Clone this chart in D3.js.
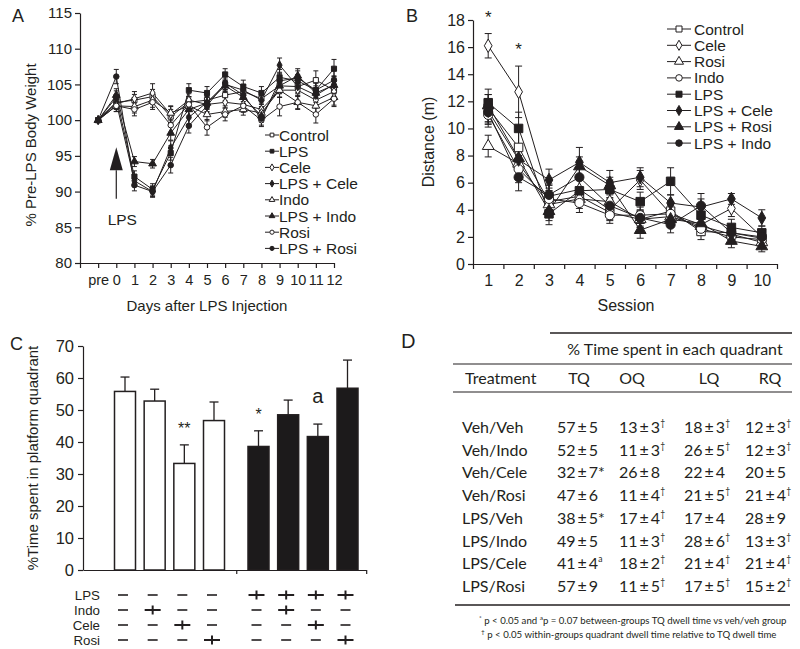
<!DOCTYPE html>
<html>
<head>
<meta charset="utf-8">
<script src="https://cdn.jsdelivr.net/npm/d3@7/dist/d3.min.js"></script>
<style>
html,body{margin:0;padding:0;background:#fff;}
svg{display:block;}
</style>
</head>
<body>
<svg id="fig" width="800" height="649"></svg>
<script>
// ================= DATA =================
// ---- Panel A: body weight ----
const daysA = [-1,0,1,2,3,4,5,6,7,8,9,10,11,12];
const dayLabelsA = ["pre","0","1","2","3","4","5","6","7","8","9","10","11","12"];
const yTicksA = [80,85,90,95,100,105,110,115];
const seriesA = ["Control","LPS","Cele","LPS + Cele","Indo","LPS + Indo","Rosi","LPS + Rosi"];
const controlA  = [100,102.5,102.8,103.3,100.5,102.5,102.8,103.5,104.0,103.0,104.8,104.7,105.6,104.2];
const lpsA      = [100,103.2, 92.1, 90.3, 95.4,104.2,103.8,106.4,104.7,103.8,106.0,105.5,104.2,107.2];
const celeA     = [100,102.3,103.0,103.8,100.8,102.8,102.2,102.5,102.2,101.5,104.2,104.2,102.8,104.0];
const lpsCeleA  = [100,102.5, 91.5, 90.0, 96.1,100.4,102.5,105.0,104.2,102.8,107.7,104.7,103.5,105.0];
const indoA     = [100,102.0,101.9,102.8,101.0,102.0,100.8,101.2,101.5,101.0,104.2,102.5,102.0,103.2];
const lpsIndoA  = [100,103.5, 94.2, 93.9, 98.2,101.5,102.4,104.8,103.2,100.6,104.8,106.2,103.8,104.9];
const rosiA     = [100,102.0,101.5,102.5, 99.3,102.2, 99.0,100.8,102.0,100.0,101.9,102.5,100.8,103.0];
const lpsRosiA  = [100,106.1, 90.9, 90.0, 93.7, 99.2,102.0,105.2,103.5,100.2,105.5,105.9,104.2,105.6];
const errControlA = [0.2,0.8,0.8,1.0,1.0,0.8,0.9,0.8,0.9,0.8,1.0,0.9,1.3,1.2];
const errLpsA     = [0.2,0.9,0.8,0.8,1.0,0.9,0.9,0.8,0.9,0.9,1.1,0.9,1.0,1.3];
const errCeleA    = [0.2,0.8,1.0,1.3,1.1,0.9,1.0,0.8,0.9,0.9,1.0,0.9,1.1,1.0];
const errLpsCeleA = [0.2,0.9,0.8,0.7,1.0,1.0,0.9,0.9,0.8,0.9,1.0,0.9,1.0,1.2];
const errIndoA    = [0.2,0.8,0.9,1.0,1.0,0.8,0.9,0.8,0.8,0.8,1.0,0.9,1.0,1.1];
const errLpsIndoA = [0.2,0.9,0.7,0.6,1.0,0.9,0.9,0.8,0.9,0.9,1.1,1.0,1.0,1.2];
const errRosiA    = [0.2,0.8,0.9,1.0,1.0,0.9,1.1,0.9,0.9,0.9,1.3,1.0,1.2,1.1];
const errLpsRosiA = [0.2,1.0,0.8,0.8,1.1,1.0,0.9,0.9,0.9,0.9,1.0,1.0,1.0,1.3];

// ---- Panel B: distance per session ----
const sessionsB = [1,2,3,4,5,6,7,8,9,10];
const yTicksB = [0,2,4,6,8,10,12,14,16,18];
const seriesB = ["Control","Cele","Rosi","Indo","LPS","LPS + Cele","LPS + Rosi","LPS + Indo"];
const controlB  = [11.5, 8.6, 4.6, 5.0, 3.8, 3.3, 3.9, 2.4, 2.3, 1.9];
const celeB     = [16.1,12.7, 5.0, 5.5, 4.0, 6.2, 3.7, 2.9, 4.1, 2.0];
const rosiB     = [ 8.7, 7.4, 4.4, 4.8, 4.6, 3.3, 3.5, 2.8, 2.2, 1.6];
const indoB     = [11.0, 7.0, 4.8, 4.5, 3.6, 3.6, 3.7, 2.6, 2.0, 1.8];
const lpsB      = [11.9,10.0, 3.7, 5.4, 5.5, 4.6, 6.1, 3.6, 2.7, 2.3];
const lpsCeleB  = [11.3, 7.7, 6.2, 7.5, 6.0, 6.4, 4.5, 4.2, 4.8, 3.4];
const lpsRosiB  = [11.7, 7.8, 3.9, 7.2, 5.8, 2.5, 3.3, 3.0, 1.7, 1.3];
const lpsIndoB  = [11.2, 6.4, 5.1, 6.4, 4.3, 3.4, 2.9, 4.3, 2.3, 2.0];
const errControlB = [1.0,1.2,0.8,0.7,0.6,0.6,0.7,0.6,0.5,0.4];
const errCeleB    = [0.9,1.9,0.8,0.8,0.7,0.7,0.7,0.6,0.6,0.5];
const errRosiB    = [0.8,1.0,0.7,0.7,0.6,0.6,0.6,0.5,0.5,0.4];
const errIndoB    = [0.9,1.0,0.8,0.7,0.6,0.6,0.6,0.5,0.5,0.4];
const errLpsB     = [1.0,1.2,0.8,0.8,0.7,0.7,1.0,0.6,0.6,0.5];
const errLpsCeleB = [0.9,1.0,0.8,1.1,0.9,0.7,0.6,0.6,0.4,0.6];
const errLpsRosiB = [0.8,1.0,0.7,0.7,0.6,0.6,0.6,0.5,0.5,0.4];
const errLpsIndoB = [0.9,1.0,0.8,0.7,0.6,0.6,0.6,0.9,0.5,0.4];
const starSessionsB = [1,2];

// ---- Panel C: probe trial ----
const yTicksC = [0,10,20,30,40,50,60,70];
const slotC   = [0,1,2,3,4.5,5.5,6.5,7.5];
const valuesC = [55.8,52.8,33.3,46.7,38.6,48.5,41.7,56.8];
const errC    = [4.5,3.7,5.8,5.8,4.9,4.6,3.9,8.8];
const sigC    = ["","","**","","*","","a",""];
const treatRowsC = ["LPS","Indo","Cele","Rosi"];
const lpsC  = [0,0,0,0,1,1,1,1];
const indoC = [0,1,0,0,0,1,0,0];
const celeC = [0,0,1,0,0,0,1,0];
const rosiC = [0,0,0,1,0,0,0,1];

// ---- Panel D: table ----
const headD = ["TQ","OQ","LQ","RQ"];
const treatmentsD = ["Veh/Veh","Veh/Indo","Veh/Cele","Veh/Rosi","LPS/Veh","LPS/Indo","LPS/Cele","LPS/Rosi"];
const tqD = ["57±5","52±5","32±7*","47±6","38±5*","49±5","41±4^a","57±9"];
const oqD = ["13±3^†","11±3^†","26±8","11±4^†","17±4^†","11±3^†","18±2^†","11±5^†"];
const lqD = ["18±3^†","26±5^†","22±4","21±5^†","17±4","28±6^†","21±4^†","17±5^†"];
const rqD = ["12±3^†","12±3^†","20±5","21±4^†","28±9","13±3^†","21±4^†","15±2^†"];

// ================= DRAWING =================
const SANS = "'Liberation Sans', Arial, Helvetica, sans-serif";
const HUM = "Lato, 'Open Sans', sans-serif";
const INK = "#231f20";
const svg = d3.select("#fig");

const shapes = {square:d3.symbolSquare, diamond:d3.symbolDiamond, triangle:d3.symbolTriangle, circle:d3.symbolCircle};
const markerStyleA = {
  "Control":["square",false], "LPS":["square",true],
  "Cele":["diamond",false], "LPS + Cele":["diamond",true],
  "Indo":["triangle",false], "LPS + Indo":["triangle",true],
  "Rosi":["circle",false], "LPS + Rosi":["circle",true]
};
const markerStyleB = {
  "Control":["square",false], "LPS":["square",true],
  "Cele":["diamond",false], "LPS + Cele":["diamond",true],
  "Rosi":["triangle",false], "LPS + Rosi":["triangle",true],
  "Indo":["circle",false], "LPS + Indo":["circle",true]
};

function axisStyle(sel, fs){
  sel.attr("font-family", SANS).attr("font-size", fs);
  sel.selectAll("path.domain").attr("stroke", INK).attr("stroke-width",1.2);
  sel.selectAll(".tick line").attr("stroke", INK).attr("stroke-width",1.2);
  sel.selectAll(".tick text").attr("fill", INK);
}

function drawSeries(g, xs, xScale, yScale, names, vals, errs, styleMap, sizeOf, cap){
  const line = d3.line().x((d,i)=>xScale(xs[i])).y(d=>yScale(d));
  names.forEach(n=>{
    g.append("path").attr("d", line(vals[n])).attr("fill","none")
      .attr("stroke",INK).attr("stroke-width",1);
  });
  names.forEach(n=>{
    const eg = g.append("g").attr("stroke",INK).attr("stroke-width",1);
    vals[n].forEach((v,i)=>{
      const e = errs[n][i], cx = xScale(xs[i]);
      eg.append("line").attr("x1",cx).attr("x2",cx).attr("y1",yScale(v-e)).attr("y2",yScale(v+e));
      eg.append("line").attr("x1",cx-cap).attr("x2",cx+cap).attr("y1",yScale(v+e)).attr("y2",yScale(v+e));
      eg.append("line").attr("x1",cx-cap).attr("x2",cx+cap).attr("y1",yScale(v-e)).attr("y2",yScale(v-e));
    });
  });
  names.forEach(n=>{
    const [shape, filled] = styleMap[n];
    g.append("g").selectAll("path").data(vals[n]).join("path")
      .attr("transform",(d,i)=>`translate(${xScale(xs[i])},${yScale(d)})`)
      .attr("d", d3.symbol().type(shapes[shape]).size(sizeOf[shape])())
      .attr("fill", filled?INK:"#fff").attr("stroke",INK).attr("stroke-width",1);
  });
}

function drawLegend(g, names, styleMap, x0, x1, xm, xt, y0, dy, sizeOf, fs){
  names.forEach((n,i)=>{
    const y = y0 + i*dy;
    g.append("line").attr("x1",x0).attr("x2",x1).attr("y1",y).attr("y2",y).attr("stroke",INK).attr("stroke-width",1);
    const [shape,filled] = styleMap[n];
    g.append("path").attr("transform",`translate(${xm},${y})`)
      .attr("d", d3.symbol().type(shapes[shape]).size(sizeOf[shape])())
      .attr("fill",filled?INK:"#fff").attr("stroke",INK).attr("stroke-width",1);
    g.append("text").attr("x",xt).attr("y",y).attr("dy","0.36em")
      .attr("font-family",SANS).attr("font-size",fs).attr("fill",INK).text(n);
  });
}

// ---------- Panel A ----------
(function(){
  const g = svg.append("g");
  const x = d3.scaleLinear().domain([-2,12]).range([80,334]);
  const y = d3.scaleLinear().domain([80,115]).range([263,13]);
  g.append("text").attr("x",12).attr("y",22).attr("font-family",SANS).attr("font-size",18).attr("fill",INK).text("A");
  const ay = g.append("g").attr("transform","translate(80,0)")
    .call(d3.axisLeft(y).tickValues(yTicksA).tickSize(5).tickSizeOuter(0).tickPadding(3));
  axisStyle(ay, 15);
  const ax = g.append("g").attr("transform","translate(0,263)")
    .call(d3.axisBottom(x).tickValues([-2].concat(daysA))
      .tickFormat(d => d===-2 ? "" : dayLabelsA[daysA.indexOf(d)])
      .tickSize(5).tickSizeOuter(0).tickPadding(7));
  axisStyle(ax, 14.5);
  g.append("text").attr("x",207).attr("y",311).attr("text-anchor","middle")
    .attr("font-family",SANS).attr("font-size",15).attr("fill",INK).text("Days after LPS Injection");
  g.append("text").attr("transform","translate(36,145) rotate(-90)").attr("text-anchor","middle")
    .attr("font-family",SANS).attr("font-size",15).attr("fill",INK).text("% Pre-LPS Body Weight");

  const vals = {"Control":controlA,"LPS":lpsA,"Cele":celeA,"LPS + Cele":lpsCeleA,"Indo":indoA,"LPS + Indo":lpsIndoA,"Rosi":rosiA,"LPS + Rosi":lpsRosiA};
  const errs = {"Control":errControlA,"LPS":errLpsA,"Cele":errCeleA,"LPS + Cele":errLpsCeleA,"Indo":errIndoA,"LPS + Indo":errLpsIndoA,"Rosi":errRosiA,"LPS + Rosi":errLpsRosiA};
  drawSeries(g, daysA, x, y, seriesA, vals, errs, markerStyleA, {square:26,diamond:22,triangle:26,circle:24}, 2.5);

  // LPS injection arrow at day 0
  const ax0 = x(0);
  g.append("path").attr("d",`M${ax0},${y(96.2)} L${ax0+6.5},${y(93)} L${ax0-6.5},${y(93)} Z`).attr("fill",INK);
  g.append("line").attr("x1",ax0).attr("x2",ax0).attr("y1",y(93)).attr("y2",y(89)).attr("stroke",INK).attr("stroke-width",1.2);
  g.append("text").attr("x",ax0+6).attr("y",y(85.3)).attr("text-anchor","middle")
    .attr("font-family",SANS).attr("font-size",15.5).attr("fill",INK).text("LPS");

  drawLegend(g, seriesA, markerStyleA, 265, 279, 272, 279, 135, 16.2, {square:14,diamond:14,triangle:14,circle:14}, 15.5);
})();

// ---------- Panel B ----------
(function(){
  const g = svg.append("g");
  const x = d3.scaleLinear().domain([0.5,10.5]).range([473,777]);
  const y = d3.scaleLinear().domain([0,18]).range([264,20]);
  g.append("text").attr("x",406).attr("y",22).attr("font-family",SANS).attr("font-size",18).attr("fill",INK).text("B");
  const ay = g.append("g").attr("transform","translate(473,0)")
    .call(d3.axisLeft(y).tickValues(yTicksB).tickSize(5).tickSizeOuter(0).tickPadding(3));
  axisStyle(ay, 16);
  const ax = g.append("g").attr("transform","translate(0,264)")
    .call(d3.axisBottom(x).tickValues(d3.range(0.5,11,1)).tickFormat("").tickSize(5).tickSizeOuter(0));
  axisStyle(ax, 16);
  const axl = g.append("g").attr("transform","translate(0,264)")
    .call(d3.axisBottom(x).tickValues(sessionsB).tickSize(0).tickPadding(11));
  axisStyle(axl, 16);
  axl.select("path.domain").remove();
  g.append("text").attr("x",626).attr("y",311).attr("text-anchor","middle")
    .attr("font-family",SANS).attr("font-size",16).attr("fill",INK).text("Session");
  g.append("text").attr("transform","translate(434,142) rotate(-90)").attr("text-anchor","middle")
    .attr("font-family",SANS).attr("font-size",16).attr("fill",INK).text("Distance (m)");

  const vals = {"Control":controlB,"Cele":celeB,"Rosi":rosiB,"Indo":indoB,"LPS":lpsB,"LPS + Cele":lpsCeleB,"LPS + Rosi":lpsRosiB,"LPS + Indo":lpsIndoB};
  const errs = {"Control":errControlB,"Cele":errCeleB,"Rosi":errRosiB,"Indo":errIndoB,"LPS":errLpsB,"LPS + Cele":errLpsCeleB,"LPS + Rosi":errLpsRosiB,"LPS + Indo":errLpsIndoB};
  drawSeries(g, sessionsB, x, y, seriesB, vals, errs, markerStyleB, {square:72,diamond:52,triangle:60,circle:66}, 3.5);

  // significance stars above the highest error bar
  starSessionsB.forEach(s=>{
    const i = sessionsB.indexOf(s);
    const top = d3.max(seriesB, n => vals[n][i] + errs[n][i]);
    g.append("text").attr("x",x(s)).attr("y",y(top)-11).attr("text-anchor","middle")
      .attr("font-family",SANS).attr("font-size",17).attr("fill",INK).text("*");
  });

  drawLegend(g, seriesB, markerStyleB, 667, 691, 679, 694, 29, 16.3, {square:36,diamond:30,triangle:36,circle:34}, 15.5);
})();

// ---------- Panel C ----------
(function(){
  const g = svg.append("g");
  const xC = d3.scaleLinear().domain([0,7.5]).range([125,347.5]);
  const y = d3.scaleLinear().domain([0,70]).range([570,346]);
  const bw = 21;
  g.append("text").attr("x",10).attr("y",350).attr("font-family",SANS).attr("font-size",18).attr("fill",INK).text("C");
  const ay = g.append("g").attr("transform","translate(83,0)")
    .call(d3.axisLeft(y).tickValues(yTicksC).tickSize(5).tickSizeOuter(0).tickPadding(4));
  axisStyle(ay, 16.5);
  const xa = xC.copy().domain([-1.41,8.13]).range([xC(-1.41), xC(8.13)]);
  const ax = g.append("g").attr("transform","translate(0,570)")
    .call(d3.axisBottom(xa).tickValues([(slotC[3]+slotC[4])/2, 8.13]).tickFormat("").tickSize(4).tickSizeOuter(0));
  axisStyle(ax, 12);
  g.append("text").attr("transform","translate(38,458) rotate(-90)").attr("text-anchor","middle")
    .attr("font-family",SANS).attr("font-size",15).attr("fill",INK).text("%Time spent in platform quadrant");

  // error bars (upper only)
  valuesC.forEach((v,i)=>{
    const cx = xC(slotC[i]);
    g.append("line").attr("x1",cx).attr("x2",cx).attr("y1",y(v)).attr("y2",y(v+errC[i])).attr("stroke",INK).attr("stroke-width",1.3);
    g.append("line").attr("x1",cx-4.5).attr("x2",cx+4.5).attr("y1",y(v+errC[i])).attr("y2",y(v+errC[i])).attr("stroke",INK).attr("stroke-width",1.3);
  });
  g.selectAll("rect.bar").data(valuesC).join("rect").attr("class","bar")
    .attr("x",(d,i)=>xC(slotC[i])-bw/2).attr("width",bw)
    .attr("y",d=>y(d)).attr("height",d=>y(0)-y(d))
    .attr("fill",(d,i)=>lpsC[i]?"#1c1a1b":"#fff").attr("stroke",INK).attr("stroke-width",1.5);
  sigC.forEach((s,i)=>{
    if(!s) return;
    const topY = y(valuesC[i]+errC[i]);
    const isA = s==="a";
    g.append("text").attr("x",xC(slotC[i])).attr("y", isA ? topY-21 : topY-11).attr("text-anchor","middle")
      .attr("font-family",SANS).attr("font-size",isA?20:16).attr("fill",INK).text(s);
  });

  // treatment matrix
  const rowVals = [lpsC, indoC, celeC, rosiC];
  const rowY = d3.scaleLinear().domain([0,3]).range([595,640]);
  treatRowsC.forEach((r,ri)=>{
    const yy = rowY(ri);
    g.append("text").attr("x",100).attr("y",yy).attr("dy","0.36em").attr("text-anchor","end")
      .attr("font-family",SANS).attr("font-size",13.3).attr("fill",INK).text(r);
    rowVals[ri].forEach((on,i)=>{
      const cx = xC(slotC[i]) - 2;
      if(on){
        g.append("line").attr("x1",cx-8).attr("x2",cx+8).attr("y1",yy).attr("y2",yy).attr("stroke",INK).attr("stroke-width",2);
        g.append("line").attr("x1",cx).attr("x2",cx).attr("y1",yy-4.5).attr("y2",yy+4.5).attr("stroke",INK).attr("stroke-width",2);
      } else {
        g.append("line").attr("x1",cx-5).attr("x2",cx+5).attr("y1",yy).attr("y2",yy).attr("stroke",INK).attr("stroke-width",1.6);
      }
    });
  });
})();

// ---------- Panel D ----------
(function(){
  const g = svg.append("g").attr("font-family",HUM).attr("fill",INK);
  g.append("text").attr("x",401).attr("y",348).attr("font-size",19).text("D");
  const hl = (x1,x2,yy,w)=>g.append("line").attr("x1",x1).attr("x2",x2).attr("y1",yy).attr("y2",yy).attr("stroke",INK).attr("stroke-width",w);
  hl(550,792,333,1.5);
  hl(453,792,364,1.2);
  hl(453,792,392,1.2);
  hl(455,790,605,1.5);
  g.append("text").attr("x",675).attr("y",355).attr("text-anchor","middle").attr("font-size",16).text("% Time spent in each quadrant");
  g.append("text").attr("x",465).attr("y",384).attr("font-size",16).text("Treatment");
  const headX = [579,632,709,770];
  headD.forEach((h,i)=>g.append("text").attr("x",headX[i]).attr("y",384).attr("text-anchor","middle").attr("font-size",16).text(h));

  const rowY = d3.scaleLinear().domain([0,treatmentsD.length-1]).range([433,592]);
  const colX = [557,619,684,745];
  const cols = [tqD,oqD,lqD,rqD];
  function cell(x,yy,str){
    const parts = str.split("^");
    const t = g.append("text").attr("x",x).attr("y",yy).attr("font-size",16);
    t.append("tspan").text(parts[0].replace("±","\u2009±\u2009"));
    if(parts[1]) t.append("tspan").attr("font-size",8.5).attr("dy",-7).text(parts[1]);
  }
  treatmentsD.forEach((tr,i)=>{
    const yy = rowY(i);
    g.append("text").attr("x",462).attr("y",yy).attr("font-size",16).text(tr);
    cols.forEach((c,ci)=>cell(colX[ci], yy, c[i]));
  });

  const f1 = g.append("text").attr("x",479).attr("y",624).attr("font-size",9.65);
  f1.append("tspan").attr("font-size",6.5).attr("dy",-4).text("*");
  f1.append("tspan").attr("dy",4).text(" p < 0.05 and ");
  f1.append("tspan").attr("font-size",6.5).attr("dy",-4).text("a");
  f1.append("tspan").attr("dy",4).text("p = 0.07 between-groups TQ dwell time vs veh/veh group");
  const f2 = g.append("text").attr("x",481).attr("y",638).attr("font-size",9.65);
  f2.append("tspan").attr("font-size",6.5).attr("dy",-4).text("†");
  f2.append("tspan").attr("dy",4).text(" p < 0.05 within-groups quadrant dwell time relative to TQ dwell time");
})();
</script>
</body>
</html>
